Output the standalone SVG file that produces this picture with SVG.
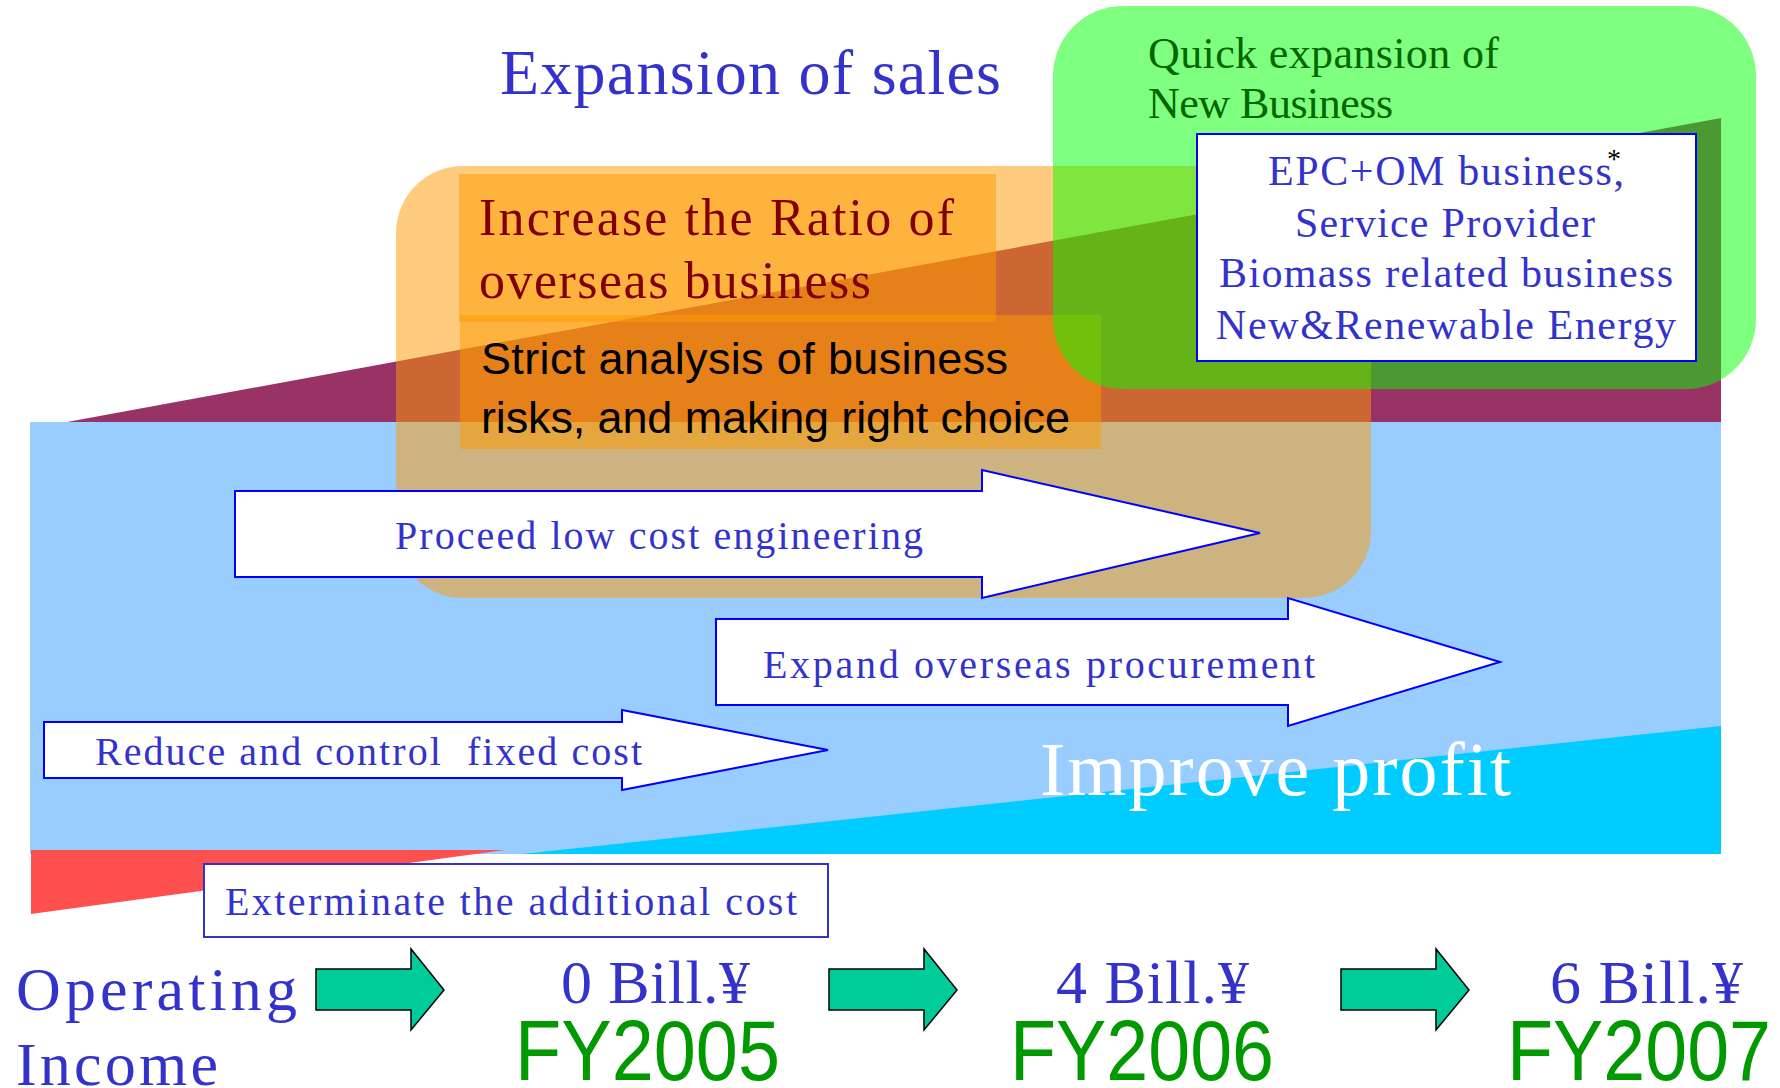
<svg xmlns="http://www.w3.org/2000/svg" width="1780" height="1088" viewBox="0 0 1780 1088">
<defs>
<style>
.serif{font-family:"Liberation Serif","Times New Roman",serif;}
.sans{font-family:"Liberation Sans",Arial,sans-serif;}
.blue{fill:#3333CC;}
.org{fill:#FF9900;fill-opacity:0.5;}
.warrow{fill:#FFFFFF;stroke:#0000FF;stroke-width:2;}
.garrow{fill:#00CC99;stroke:#000000;stroke-width:1.5;}
.fy{fill:#009900;font-size:85px;}
</style>
</defs>
<rect width="1780" height="1088" fill="#FFFFFF"/>
<g id="background">
<polygon points="67,422 1721,118 1721,422" fill="#993366"/>
<rect x="30" y="422" width="1691" height="432" fill="#99CCFF"/>
<polygon points="522,854 1721,726 1721,854" fill="#00CCFF"/>
<polygon points="31,850 505,850 31,914" fill="#FF5050"/>
</g>
<g id="overseas">
<rect x="396" y="166" width="975" height="432" rx="67" ry="67" class="org"/>
<rect x="459" y="174" width="537" height="148" class="org"/>
<rect x="460" y="315" width="641" height="134" class="org"/>
<text class="serif" x="479" y="235" font-size="52" fill="#800000" textLength="475">Increase the Ratio of</text>
<text class="serif" x="479" y="298" font-size="52" fill="#800000" textLength="392">overseas business</text>
<text class="sans" x="481" y="374" font-size="45" fill="#000000" textLength="527">Strict analysis of business</text>
<text class="sans" x="481" y="433" font-size="45" fill="#000000" textLength="589">risks, and making right choice</text>
</g>
<g id="new-business">
<rect x="1053" y="6" width="703" height="383" rx="70" ry="70" fill="#00FF00" fill-opacity="0.5"/>
<text class="serif" x="1148" y="68" font-size="44" fill="#006600" textLength="351">Quick expansion of</text>
<text class="serif" x="1148" y="118" font-size="44" fill="#006600" textLength="245">New Business</text>
</g>
<g id="epc-box">
<rect x="1197" y="134" width="499" height="227" fill="#FFFFFF" stroke="#0000FF" stroke-width="2"/>
<text class="serif blue" x="1268" y="185" font-size="42" textLength="356">EPC+OM business,</text>
<text class="serif" x="1607" y="168" font-size="28" fill="#000000">*</text>
<text class="serif blue" x="1295" y="237" font-size="42" textLength="300">Service Provider</text>
<text class="serif blue" x="1219" y="287" font-size="42" textLength="454">Biomass related business</text>
<text class="serif blue" x="1216" y="339" font-size="42" textLength="460">New&amp;Renewable Energy</text>
</g>
<g id="title">
<text class="serif blue" x="500" y="94" font-size="64" textLength="501">Expansion of sales</text>
</g>
<g id="arrow-low-cost">
<polygon class="warrow" points="235,491 982,491 982,470 1260,533 982,598 982,577 235,577"/>
<text class="serif blue" x="395" y="549" font-size="40" textLength="528">Proceed low cost engineering</text>
</g>
<g id="arrow-procurement">
<polygon class="warrow" points="716,619 1288,619 1288,598 1500,662 1288,726 1288,705 716,705"/>
<text class="serif blue" x="763" y="678" font-size="40" textLength="552">Expand overseas procurement</text>
</g>
<g id="arrow-fixed-cost">
<polygon class="warrow" points="44,722 622,722 622,710 828,750 622,790 622,778 44,778"/>
<text class="serif blue" x="95" y="765" font-size="40" textLength="547" style="white-space:pre">Reduce and control  fixed cost</text>
</g>
<g id="improve-profit">
<text class="serif" x="1040" y="795" font-size="76" fill="#FFFFFF" textLength="471">Improve profit</text>
</g>
<g id="exterminate">
<rect x="204" y="864" width="624" height="73" fill="#FFFFFF" stroke="#3333CC" stroke-width="2"/>
<text class="serif blue" x="225" y="915" font-size="40" textLength="572">Exterminate the additional cost</text>
</g>
<g id="operating-income">
<text class="serif blue" x="16" y="1010" font-size="62" textLength="281">Operating</text>
<text class="serif blue" x="16" y="1085" font-size="62" textLength="202">Income</text>
</g>
<g id="fy2005">
<text class="serif blue" x="561" y="1003" font-size="62" textLength="189">0 Bill.¥</text>
<text class="sans fy" x="515" y="1080" textLength="265" lengthAdjust="spacingAndGlyphs">FY2005</text>
</g>
<g id="fy2006">
<text class="serif blue" x="1056" y="1003" font-size="62" textLength="193">4 Bill.¥</text>
<text class="sans fy" x="1010" y="1080" textLength="264" lengthAdjust="spacingAndGlyphs">FY2006</text>
</g>
<g id="fy2007">
<text class="serif blue" x="1550" y="1003" font-size="62" textLength="193">6 Bill.¥</text>
<text class="sans fy" x="1507" y="1080" textLength="264" lengthAdjust="spacingAndGlyphs">FY2007</text>
</g>
<g id="connectors">
<polygon class="garrow" points="316,969 411,969 411,949 444,990 411,1030 411,1010 316,1010"/>
<polygon class="garrow" points="829,969 924,969 924,949 957,990 924,1030 924,1010 829,1010"/>
<polygon class="garrow" points="1341,969 1436,969 1436,949 1469,990 1436,1030 1436,1010 1341,1010"/>
</g>
</svg>
